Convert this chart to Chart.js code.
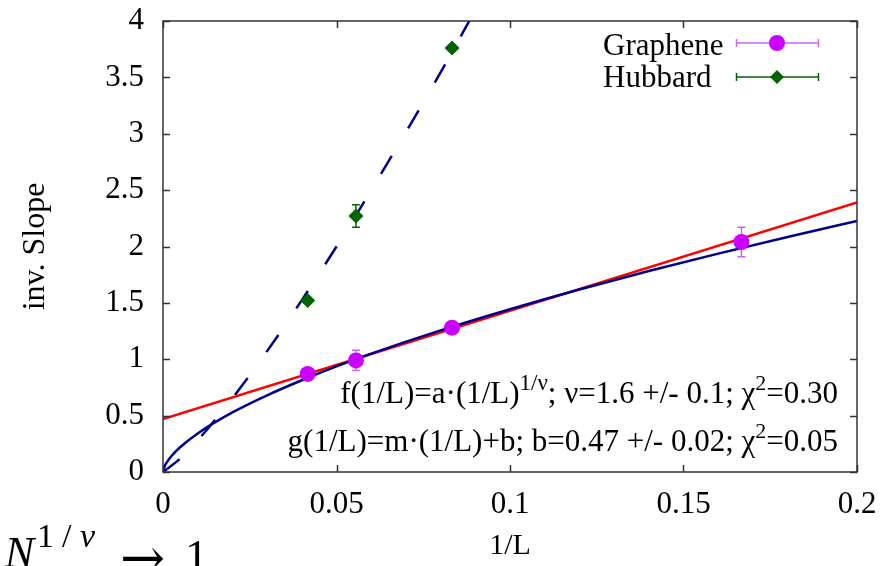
<!DOCTYPE html>
<html>
<head>
<meta charset="utf-8">
<script src="https://cdn.jsdelivr.net/npm/chart.js@4.4.1/dist/chart.umd.min.js"></script>
<style>
  html, body { margin: 0; padding: 0; background: #fff; }
  #chart { display: block; }
</style>
</head>
<body>
<canvas id="chart" width="894" height="566"></canvas>
<script>
// Data points (1/L, inverse slope) with error bars
const grapheneX = [0.0417, 0.0556, 0.0833, 0.1667];
const grapheneY = [0.87, 0.99, 1.28, 2.04];
const grapheneErr = [0.01, 0.09, 0.01, 0.13];

const hubbardX = [0.0417, 0.0556, 0.0833];
const hubbardY = [1.52, 2.27, 3.76];
const hubbardErr = [0.02, 0.1, 0.02];

// Fit curves
const powFitX = [0, 0.0005, 0.001, 0.0025, 0.005, 0.01, 0.02, 0.03, 0.04, 0.05, 0.06, 0.08, 0.1, 0.12, 0.14, 0.16, 0.18, 0.2];
const powFitY = [0, 0.053, 0.081, 0.144, 0.222, 0.342, 0.528, 0.680, 0.814, 0.937, 1.050, 1.256, 1.444, 1.619, 1.782, 1.937, 2.085, 2.226];

const dashFitX = [0, 0.005, 0.01, 0.02, 0.03, 0.04, 0.05, 0.06, 0.07, 0.08, 0.09];
const dashFitY = [0, 0.120, 0.281, 0.654, 1.072, 1.524, 2.000, 2.499, 3.015, 3.545, 4.096];

const linFitX = [0, 0.2];
const linFitY = [0.47, 2.39];

// Axis ticks
const xTicks = [0, 0.05, 0.1, 0.15, 0.2];
const yTicks = [0, 0.5, 1, 1.5, 2, 2.5, 3, 3.5, 4];

const SERIF = '"Liberation Serif", "Times New Roman", serif';
const GRAPHENE = 'rgb(204, 0, 255)';
const GRAPHENE_ERR = 'rgb(204, 102, 238)';
const HUBBARD = 'rgb(0, 100, 0)';
const NAVY = 'rgb(0, 0, 140)';

function toPoints(xs, ys) {
    return xs.map((x, i) => ({ x: x, y: ys[i] }));
}

function fmt(v) {
    return String(+Number(v).toFixed(2));
}

// draw a line of text with superscripts, right aligned at x
function drawRich(ctx, parts, xRight, baseline, size) {
    let total = 0;
    parts.forEach(p => {
        p.size = p.sup ? Math.round(size * (p.scale || 0.7)) : size;
        ctx.font = p.size + 'px ' + SERIF;
        p.w = ctx.measureText(p.t).width;
        total += p.w;
    });
    let x = xRight - total;
    ctx.textAlign = 'left';
    ctx.textBaseline = 'alphabetic';
    parts.forEach(p => {
        ctx.font = p.size + 'px ' + SERIF;
        ctx.fillText(p.t, x, p.sup ? baseline - size * 0.42 : baseline);
        x += p.w;
    });
}

const decor = {
    id: 'decor',
    beforeDatasetsDraw(chart) {
        const ctx = chart.ctx;
        const xs = chart.scales.x, ys = chart.scales.y;
        const sets = [
            [grapheneX, grapheneY, grapheneErr, GRAPHENE_ERR],
            [hubbardX, hubbardY, hubbardErr, HUBBARD]
        ];
        ctx.save();
        ctx.lineWidth = 1.5;
        sets.forEach(([X, Y, E, color]) => {
            ctx.strokeStyle = color;
            X.forEach((x, i) => {
                const px = xs.getPixelForValue(x);
                const lo = ys.getPixelForValue(Y[i] - E[i]);
                const hi = ys.getPixelForValue(Y[i] + E[i]);
                ctx.beginPath();
                ctx.moveTo(px, lo); ctx.lineTo(px, hi);
                ctx.moveTo(px - 4, lo); ctx.lineTo(px + 4, lo);
                ctx.moveTo(px - 4, hi); ctx.lineTo(px + 4, hi);
                ctx.stroke();
            });
        });
        ctx.restore();
    },
    afterDatasetsDraw(chart) {
        const ctx = chart.ctx;
        const a = chart.chartArea;
        const xs = chart.scales.x, ys = chart.scales.y;
        ctx.save();
        ctx.strokeStyle = '#333';
        ctx.lineWidth = 1.5;
        ctx.strokeRect(a.left, a.top, a.right - a.left, a.bottom - a.top);
        ctx.beginPath();
        xs.ticks.forEach(t => {
            const px = Math.round(xs.getPixelForValue(t.value)) + 0.5;
            ctx.moveTo(px, a.bottom); ctx.lineTo(px, a.bottom - 7);
            ctx.moveTo(px, a.top); ctx.lineTo(px, a.top + 7);
        });
        ys.ticks.forEach(t => {
            const py = Math.round(ys.getPixelForValue(t.value)) + 0.5;
            ctx.moveTo(a.left, py); ctx.lineTo(a.left + 7, py);
            ctx.moveTo(a.right, py); ctx.lineTo(a.right - 7, py);
        });
        ctx.stroke();
        ctx.restore();
    },
    afterDraw(chart) {
        const ctx = chart.ctx;
        ctx.save();
        ctx.fillStyle = '#000';

        // legend
        ctx.font = '31px ' + SERIF;
        ctx.textAlign = 'left';
        ctx.textBaseline = 'alphabetic';
        ctx.fillText('Graphene', 603, 55);
        ctx.fillText('Hubbard', 603, 87);
        const rows = [[43, GRAPHENE_ERR, GRAPHENE, 'circle'], [77, HUBBARD, HUBBARD, 'diamond']];
        rows.forEach(([y, lineColor, fill, shape]) => {
            ctx.strokeStyle = lineColor;
            ctx.lineWidth = 1.5;
            ctx.beginPath();
            ctx.moveTo(736, y); ctx.lineTo(819, y);
            ctx.moveTo(736.5, y - 4); ctx.lineTo(736.5, y + 4);
            ctx.moveTo(818.5, y - 4); ctx.lineTo(818.5, y + 4);
            ctx.stroke();
            ctx.fillStyle = fill;
            ctx.beginPath();
            if (shape === 'circle') {
                ctx.arc(777, y, 8, 0, Math.PI * 2);
            } else {
                ctx.moveTo(777, y - 7); ctx.lineTo(784, y);
                ctx.lineTo(777, y + 7); ctx.lineTo(770, y);
                ctx.closePath();
            }
            ctx.fill();
        });

        // fit results
        ctx.fillStyle = '#000';
        drawRich(ctx, [
            { t: 'f(1/L)=a\u00b7(1/L)' }, { t: '1/\u03bd', sup: true, scale: 0.75 },
            { t: '; \u03bd=1.6 +/- 0.1; \u03c7' }, { t: '2', sup: true }, { t: '=0.30' }
        ], 838, 403, 31);
        drawRich(ctx, [
            { t: 'g(1/L)=m\u00b7(1/L)+b; b=0.47 +/- 0.02; \u03c7' }, { t: '2', sup: true }, { t: '=0.05' }
        ], 838, 451, 31);

        // leftover formula cut off at the bottom left
        ctx.font = 'italic 44px ' + SERIF;
        ctx.textAlign = 'right';
        ctx.fillText('N', 34, 567);
        ctx.textAlign = 'left';
        ctx.font = '34px ' + SERIF;
        ctx.fillText('1', 37, 547);
        ctx.fillText('/', 62, 547);
        ctx.font = 'italic 34px ' + SERIF;
        ctx.fillText('\u03bd', 80, 547);
        ctx.font = '54px "DejaVu Serif", serif';
        ctx.fillText('\u2192', 120, 576);
        ctx.font = '46px ' + SERIF;
        ctx.fillText('1', 185, 572);
        ctx.restore();
    }
};

Chart.defaults.font.family = SERIF;
Chart.defaults.color = '#000';

const hidden = 'rgba(0, 0, 0, 0)';

new Chart(document.getElementById('chart'), {
    type: 'scatter',
    data: {
        datasets: [
            {
                label: 'Graphene',
                data: toPoints(grapheneX, grapheneY),
                backgroundColor: GRAPHENE,
                borderColor: GRAPHENE,
                pointStyle: 'circle',
                pointRadius: 8,
                pointBorderWidth: 0
            },
            {
                label: 'Hubbard',
                data: toPoints(hubbardX, hubbardY),
                backgroundColor: HUBBARD,
                borderColor: HUBBARD,
                pointStyle: 'rectRot',
                pointRadius: 7.5,
                pointBorderWidth: 0
            },
            {
                label: 'f',
                data: toPoints(powFitX, powFitY),
                showLine: true,
                borderColor: NAVY,
                borderWidth: 2.5,
                pointRadius: 0,
                cubicInterpolationMode: 'monotone'
            },
            {
                label: 'g',
                data: toPoints(linFitX, linFitY),
                showLine: true,
                borderColor: 'rgb(255, 0, 0)',
                borderWidth: 2.5,
                pointRadius: 0
            },
            {
                label: 'hubbard fit',
                data: toPoints(dashFitX, dashFitY),
                showLine: true,
                borderColor: NAVY,
                borderWidth: 2.5,
                borderDash: [21, 32],
                pointRadius: 0,
                cubicInterpolationMode: 'monotone'
            }
        ]
    },
    options: {
        responsive: false,
        animation: false,
        devicePixelRatio: 1,
        layout: { padding: { top: 21, right: 37, bottom: 0, left: 0 } },
        plugins: {
            legend: { display: false },
            tooltip: { enabled: false }
        },
        scales: {
            x: {
                type: 'linear',
                position: 'bottom',
                min: 0,
                max: 0.2,
                afterFit: s => { s.height = 94; },
                afterBuildTicks: s => { s.ticks = xTicks.map(v => ({ value: v })); },
                grid: { display: false, drawTicks: true, tickLength: 14, color: hidden },
                border: { display: false },
                ticks: { padding: 0, font: { size: 31 }, callback: fmt, maxRotation: 0 },
                title: { display: true, text: '1/L', font: { size: 30 }, padding: { top: 0, bottom: 2 } }
            },
            y: {
                type: 'linear',
                position: 'left',
                min: 0,
                max: 4,
                afterFit: s => { s.width = 163; },
                afterBuildTicks: s => { s.ticks = yTicks.map(v => ({ value: v })); },
                grid: { display: false, drawTicks: true, tickLength: 19, color: hidden },
                border: { display: false },
                ticks: { padding: 0, font: { size: 31 }, callback: fmt },
                title: { display: true, text: 'inv. Slope', font: { size: 32 }, padding: { top: 16, bottom: 0 } }
            }
        }
    },
    plugins: [decor]
});
</script>
</body>
</html>
